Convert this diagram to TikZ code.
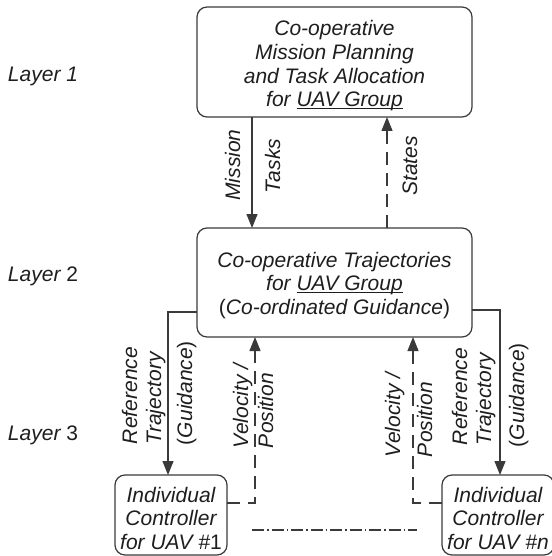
\documentclass[tikz,border=0pt]{standalone}
\usepackage{fontspec}
\setmainfont{Liberation Sans}
\usetikzlibrary{arrows.meta}

\definecolor{ink}{HTML}{1E1E1E}
\definecolor{edge}{HTML}{3A3A3A}

% underline that sits just under the baseline, ignoring descenders
\newcommand\ulined[1]{\setbox0\hbox{#1}\rlap{\rule[-2.2pt]{\wd0}{1.1pt}}\box0}
% centred lines, baseline taken from the first line
\newcommand\stack[1]{\begin{tabular}[t]{@{}c@{}}#1\end{tabular}}
\newcommand\up[1]{{\upshape #1}}

\begin{document}
\begin{tikzpicture}[x=1pt, y=-1pt,
  every node/.style={font=\fontsize{21}{23.6}\selectfont\itshape, text=ink, inner sep=0pt, outer sep=0pt},
  block/.style={draw=edge, line width=1.2pt, rounded corners=10pt},
  flow/.style={draw=edge, line width=1.2pt, -{Triangle[length=14pt,width=11pt]}},
  feedback/.style={flow, dash pattern=on 13pt off 8pt},
  peer/.style={draw=edge, line width=1.1pt, dash pattern=on 12pt off 3pt on 1.5pt off 3pt},
  vlabel/.style={rotate=90, anchor=base west}
]
\useasboundingbox (0,0) rectangle (551,556);

% layer captions
\node[anchor=base west] (layer1) at (8,82)  {Layer 1};
\node[anchor=base west] (layer2) at (8,281) {Layer \up{2}};
\node[anchor=base west] (layer3) at (8,440) {Layer \up{3}};

% blocks
\node[block, minimum width=275pt, minimum height=110pt] (plan)  at (334.5,62)  {};
\node[block, minimum width=275pt, minimum height=109pt] (coop)  at (334.5,282.5) {};
\node[block, minimum width=112pt, minimum height=80pt]  (ctrl1) at (171,515) {};
\node[block, minimum width=112pt, minimum height=80pt]  (ctrln) at (498,515) {};

% block texts
\node[anchor=base] (plantext) at (334.5,36)
  {\stack{Co-operative\\Mission Planning\\and Task Allocation\\for \ulined{UAV Group}}};
\node[anchor=base] (cooptext) at (334.5,267)
  {\stack{Co-operative Trajectories\\for \ulined{UAV Group}\\\up{(}Co-ordinated Guidance\up{)}}};
\node[anchor=base] (ctrl1text) at (171,502)
  {\stack{Individual\\Controller\\for UAV \#\up{1}}};
\node[anchor=base] (ctrlntext) at (498,502)
  {\stack{Individual\\Controller\\for UAV \#n}};

% routing coordinates
\coordinate (xmis) at (252,0);
\coordinate (xsta) at (387,0);
\coordinate (lref) at (168,312);
\coordinate (rref) at (500,310);
\coordinate (lvel) at (255,503);
\coordinate (rvel) at (413,503);
\coordinate (peerA) at (252,530);
\coordinate (peerB) at (417,530);

% layer 1 <-> layer 2
\draw[flow] (plan.south -| xmis) -- (coop.north -| xmis);
\draw[feedback] (coop.north -| xsta) -- (plan.south -| xsta);
\node[vlabel, anchor=base] (mission) at (240,165) {Mission};
\node[vlabel, anchor=base] (tasks)   at (280,166) {Tasks};
\node[vlabel, anchor=base] (states)  at (417,166) {States};

% layer 2 -> layer 3 guidance
\draw[flow] (coop.west |- lref) -| (ctrl1.north -| lref);
\draw[flow] (coop.east |- rref) -| (ctrln.north -| rref);

% layer 3 -> layer 2 feedback
\draw[feedback] (ctrl1.east |- lvel) -| (coop.south -| lvel);
\draw[feedback] (ctrln.west |- rvel) -| (coop.south -| rvel);

% link between the individual controllers
\draw[peer] (peerA) -- (peerB);

% left labels
\node[vlabel] (lrefa) at (137,444) {Reference};
\node[vlabel] (lrefb) at (161,444) {Trajectory};
\node[vlabel] (lguid) at (192,445) {\up{(}Guidance\up{)}};
\node[vlabel] (lvela) at (248,448) {Velocity /};
\node[vlabel] (lvelb) at (273,448) {Position};

% right labels
\node[vlabel] (rvela) at (400,457) {Velocity /};
\node[vlabel] (rvelb) at (432,457) {Position};
\node[vlabel] (rrefa) at (467,445) {Reference};
\node[vlabel] (rrefb) at (491,445) {Trajectory};
\node[vlabel] (rguid) at (524,447) {\up{(}Guidance\up{)}};
\end{tikzpicture}
\end{document}
